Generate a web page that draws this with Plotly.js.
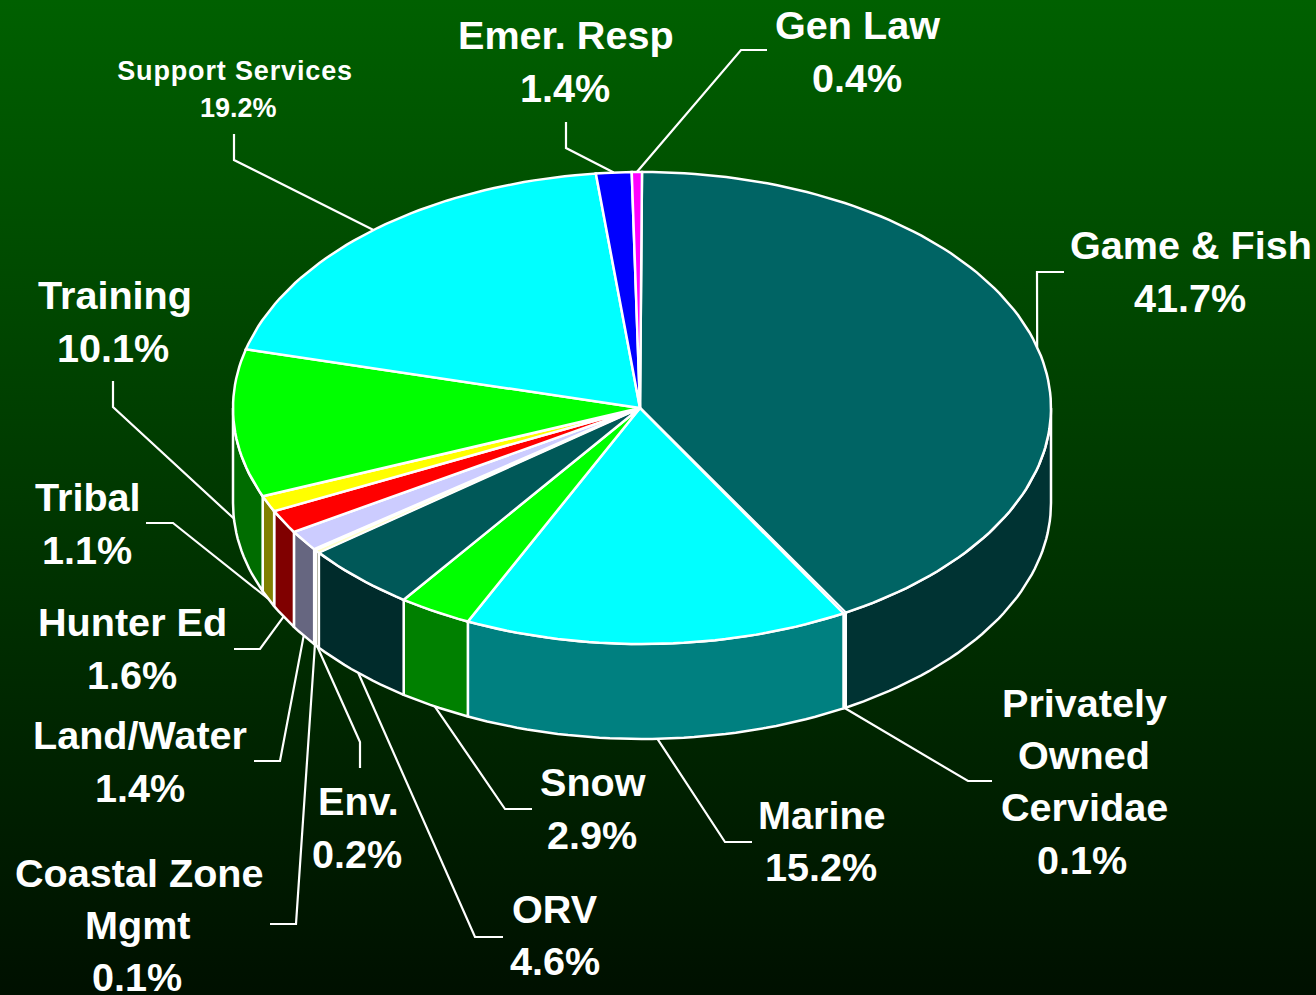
<!DOCTYPE html>
<html>
<head>
<meta charset="utf-8">
<script src="https://cdn.plot.ly/plotly-3.0.1.min.js"></script>
<style>
html,body{margin:0;padding:0;width:1316px;height:995px;overflow:hidden;background:linear-gradient(to bottom,#006000 0%,#001000 100%);}
#chart{width:1316px;height:995px;}
</style>
</head>
<body>
<div id="chart"></div>
<script>
// Data, clockwise from 12 o'clock
const categories = ['Game & Fish','Privately Owned Cervidae','Marine','Snow','ORV','Env.','Coastal Zone Mgmt','Land/Water','Hunter Ed','Tribal','Training','Support Services','Emer. Resp','Gen Law'];
const values = [41.7,0.1,15.2,2.9,4.6,0.2,0.1,1.4,1.6,1.1,10.1,19.2,1.4,0.4];
const topColors = ['#006464','#6666cc','#00ffff','#00ff00','#005858','#ffffcc','#ffffcc','#ccccff','#ff0000','#ffff00','#00ff00','#00ffff','#0000ff','#ff00ff'];
const sideColors = ['#003333','#333366','#008080','#008000','#002b2b','#808066','#808066','#666680','#800000','#808000','#006c00','#008080','#000080','#800080'];

// Label layout: text lines, centre x and centre y of every line, font size
const labelLines = [['Game & Fish'],['Privately','Owned','Cervidae'],['Marine'],['Snow'],['ORV'],['Env.'],['Coastal Zone','Mgmt'],['Land/Water'],['Hunter Ed'],['Tribal'],['Training'],['Support Services'],['Emer. Resp'],['Gen Law']];
const labelX = [[1191,1190],[1084,1084,1084,1082],[822,821],[593,592],[555,555],[358,357],[139,138,137],[140,140],[132,132],[88,87],[115,113],[235,238],[566,565],[857,857]];
const labelY = [[245,298],[703,755,807,860],[815,867],[782,835],[909,961],[801,854],[873,925,977],[735,788],[622,675],[497,550],[295,348],[71,108],[35,88],[25,78]];
const labelSize = [39.6,39.6,39.6,39.6,39.6,39.6,39.6,39.6,39.6,39.6,39.6,27,39.6,39.6];
// Leader elbows (two points after the anchor on the pie edge)
const leaderX = [[1037,1064],[968,992],[725,752],[505,532],[475,503],[360,360],[296,270],[280,254],[260,234],[173,146],[113,113],[234,234],[566,566],[741,767]];
const leaderY = [[272,272],[781,781],[842,842],[809,809],[937,937],[742,768],[924,924],[761,761],[649,649],[523,523],[407,381],[160,134],[148,122],[50,50]];

// Pie geometry
const cx = 642, cy = 408, rx = 409, ry = 236, depth = 95, apexX = 640;
const total = values.reduce((a,b)=>a+b,0);
const px = t => cx + rx*Math.sin(t*Math.PI/180);
const py = t => cy - ry*Math.cos(t*Math.PI/180);
function arc(a,b){const n=Math.max(2,Math.ceil((b-a)/1.5));const ts=[];for(let i=0;i<=n;i++)ts.push(a+(b-a)*i/n);return ts;}

const traces = [], annotations = [];
let acc = 0;
const spans = values.map(v=>{const a=acc/total*360;acc+=v;return [a,acc/total*360];});

// Side walls (front half only)
spans.forEach(([a,b],i)=>{
  const lo=Math.max(a,90), hi=Math.min(b,270);
  if(hi<=lo) return;
  const ts=arc(lo,hi);
  const x=ts.map(px).concat(ts.slice().reverse().map(px)); x.push(x[0]);
  const y=ts.map(t=>py(t)+depth).concat(ts.slice().reverse().map(py)); y.push(y[0]);
  traces.push({type:'scatter',mode:'lines',x,y,fill:'toself',fillcolor:sideColors[i],line:{color:'#ffffff',width:2.5},hoverinfo:'skip',name:categories[i]+' side'});
});
// Top slices
spans.forEach(([a,b],i)=>{
  const ts=arc(a,b);
  const x=[apexX].concat(ts.map(px),[apexX]);
  const y=[cy].concat(ts.map(py),[cy]);
  traces.push({type:'scatter',mode:'lines',x,y,fill:'toself',fillcolor:topColors[i],line:{color:'#ffffff',width:i===1||i===5||i===6?1.5:2.5},hoverinfo:'text',text:categories[i]+' '+values[i].toFixed(1)+'%',name:categories[i]});
});
// Leaders and labels
spans.forEach(([a,b],i)=>{
  const m=(a+b)/2;
  const front=m>90&&m<270;
  const sx=px(m), sy=py(m)+(front?depth:0);
  traces.push({type:'scatter',mode:'lines',x:[sx].concat(leaderX[i]),y:[sy].concat(leaderY[i]),line:{color:'#ffffff',width:2.2},hoverinfo:'skip'});
  const lines=labelLines[i].concat([values[i].toFixed(1)+'%']);
  lines.forEach((txt,j)=>{
    annotations.push({xref:'x',yref:'y',x:labelX[i][j],y:labelY[i][j],text:'<b>'+txt.replace('&','&amp;')+'</b>',showarrow:false,xanchor:'center',yanchor:'middle',
      font:{family:'"Liberation Sans",Arial,sans-serif',size:labelSize[i],color:'#ffffff'}});
  });
});

const layout = {
  width:1316,height:995,margin:{l:0,r:0,t:0,b:0,pad:0},
  paper_bgcolor:'rgba(0,0,0,0)',plot_bgcolor:'rgba(0,0,0,0)',showlegend:false,
  xaxis:{range:[0,1316],visible:false,fixedrange:true},
  yaxis:{range:[995,0],visible:false,fixedrange:true},
  annotations
};
Plotly.newPlot('chart',traces,layout,{displayModeBar:false,responsive:false}).then(()=>{
  document.querySelectorAll('.annotation-text').forEach(el=>{
    if(el.textContent==='Support Services') el.style.letterSpacing='0.85px';
  });
});
</script>
</body>
</html>
